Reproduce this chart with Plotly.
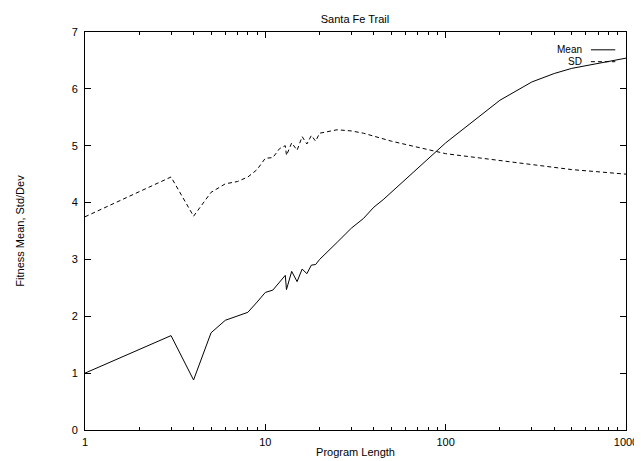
import plotly.graph_objects as go

program_length = [1, 3, 4, 5, 6, 7, 8, 9, 10, 11, 12, 12.9, 13.1, 14, 15, 16, 17, 18, 19, 20,
                  25, 30, 35, 40, 45, 50, 100, 200, 300, 400, 500, 1000]
fitness_mean = [1.0, 1.66, 0.88, 1.71, 1.93, 2.01, 2.07, 2.25, 2.42, 2.46, 2.60, 2.72, 2.47, 2.79,
                2.61, 2.83, 2.75, 2.90, 2.91, 3.0, 3.3, 3.55, 3.72, 3.92, 4.05, 4.18, 5.05, 5.8,
                6.12, 6.27, 6.36, 6.54]
fitness_sd = [3.75, 4.45, 3.76, 4.18, 4.33, 4.37, 4.45, 4.58, 4.78, 4.79, 4.95, 5.0, 4.83, 5.05,
              4.92, 5.16, 5.03, 5.18, 5.08, 5.22, 5.28, 5.26, 5.22, 5.17, 5.12, 5.08, 4.86, 4.74,
              4.66, 4.61, 4.58, 4.50]
x_ticks = [1, 10, 100, 1000]
x_minor_ticks = [m * d for d in (1, 10, 100) for m in range(2, 10)]
y_ticks = [0, 1, 2, 3, 4, 5, 6, 7]

FONT = "Liberation Sans, Arial, Helvetica, sans-serif"

L, R, T, B = 74, 13, 24, 35
W, H = 642, 461
PW, PH = W - L - R, H - T - B

fig = go.Figure()
fig.add_trace(go.Scatter(x=program_length, y=fitness_mean, mode="lines", name="Mean",
                         line=dict(color="black", width=1)))
fig.add_trace(go.Scatter(x=program_length, y=fitness_sd, mode="lines", name="SD",
                         line=dict(color="black", width=1, dash="4px,3px")))

axis_common = dict(showline=True, linecolor="black", linewidth=1, mirror="allticks",
                   ticks="inside", ticklen=6, tickcolor="black", showgrid=False, zeroline=False,
                   tickfont=dict(family=FONT, size=11, color="black"))

fig.update_xaxes(type="log", range=[0, 3], tickvals=x_ticks, ticktext=[str(v) for v in x_ticks],
                 minor=dict(ticks="inside", ticklen=3, tickcolor="black", showgrid=False,
                            tickvals=x_minor_ticks),
                 ticklabelstandoff=2,
                 title=dict(text="Program Length", font=dict(family=FONT, size=11, color="black"),
                            standoff=1),
                 **axis_common)
fig.update_yaxes(range=[0, 7], tickvals=y_ticks, ticklabelstandoff=4,
                 title=dict(text="Fitness Mean, Std/Dev", font=dict(family=FONT, size=11, color="black"),
                            standoff=44),
                 **axis_common)

# gnuplot-style key: text right-aligned, sample line to the right
key_items = [("Mean", "solid"), ("SD", "4px,3px")]
for i, (label, dash) in enumerate(key_items):
    yp = 1 - (18 + 12 * i) / PH
    fig.add_annotation(xref="paper", yref="paper", x=(585 - L) / PW, y=yp, text=label,
                       showarrow=False, xanchor="right", yanchor="middle", borderpad=0,
                       font=dict(family=FONT, size=10, color="black"))
    fig.add_shape(type="line", xref="paper", yref="paper", x0=(593 - L) / PW, x1=(618 - L) / PW,
                  y0=yp, y1=yp, line=dict(color="black", width=1, dash=dash))

fig.update_layout(
    width=W, height=H,
    margin=dict(l=L, r=R, t=T, b=B),
    paper_bgcolor="white", plot_bgcolor="white",
    showlegend=False,
    title=dict(text="Santa Fe Trail", x=347 / W, xanchor="center",
               y=1 - 11 / H, yanchor="middle",
               font=dict(family=FONT, size=11, color="black")),
)

fig.write_html("out.html")
